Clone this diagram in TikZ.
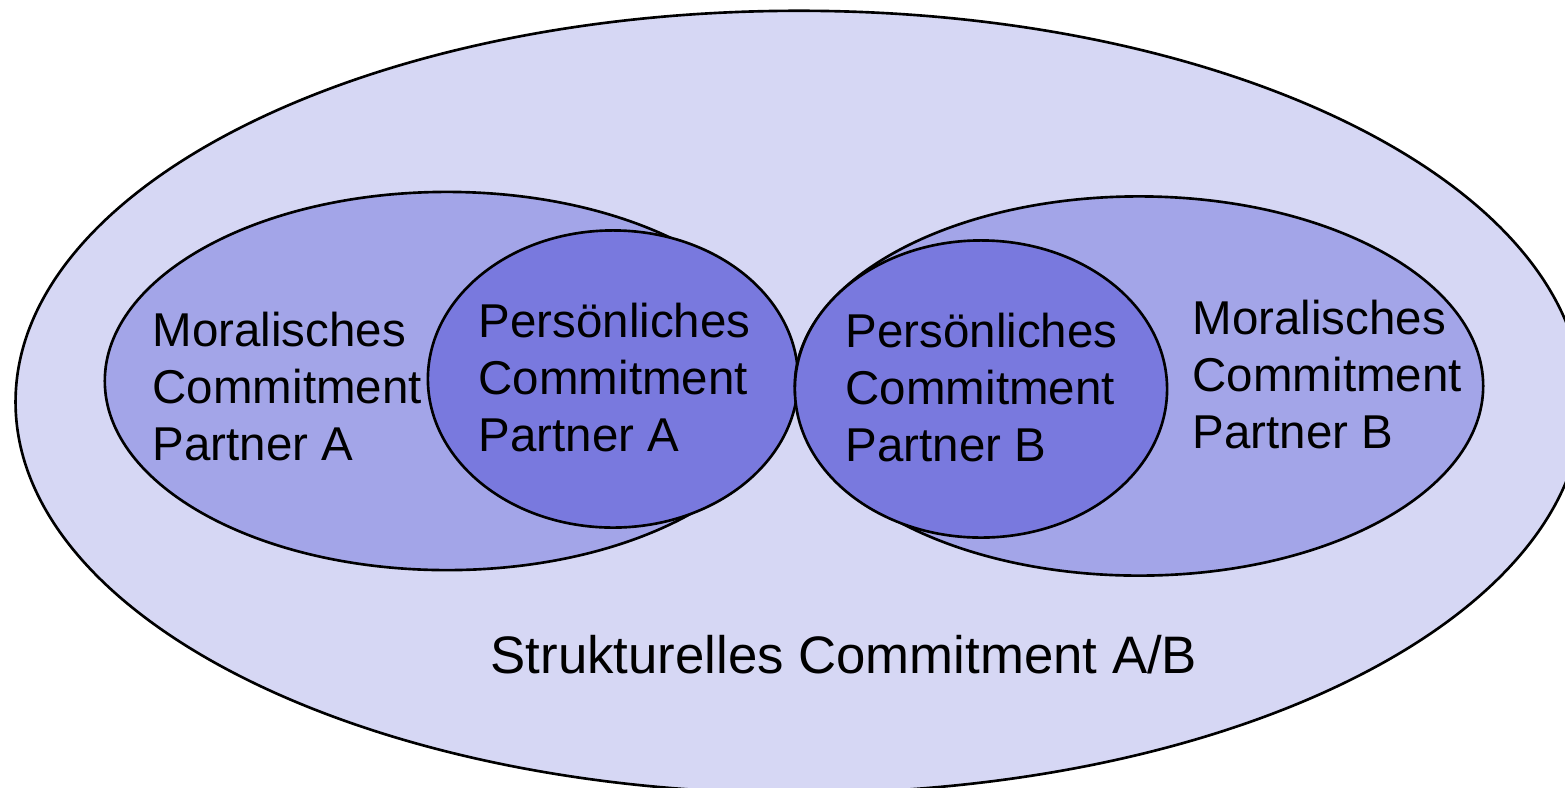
\documentclass[tikz,border=0pt]{standalone}
\usepackage{fontspec}
\setmainfont{Liberation Sans}
\usetikzlibrary{shapes.geometric}

\definecolor{strukfill}{RGB}{214,215,244}
\definecolor{moralfill}{RGB}{163,165,232}
\definecolor{persfill}{RGB}{121,121,222}

\tikzset{
  ring/.style={ellipse, draw=black, line width=0.75pt, inner sep=0pt},
  label/.style={align=left, inner sep=0pt, anchor=north west,
    font=\fontsize{13.5}{16.3}\selectfont}
}

\begin{document}
\begin{tikzpicture}[x=0.01cm, y=-0.01cm]
\useasboundingbox (0,0) rectangle (1565,787);
\node (struk) at (799,402) [ring, fill=strukfill, minimum width=15.66cm, minimum height=7.82cm] {};
\node (moralA) at (447,381) [ring, fill=moralfill, minimum width=6.84cm, minimum height=3.78cm] {};
\node (persA) at (613,379) [ring, fill=persfill, minimum width=3.70cm, minimum height=2.97cm] {};
\node (moralB) at (1139,386) [ring, fill=moralfill, minimum width=6.88cm, minimum height=3.79cm] {};
\node (persB) at (981,389) [ring, fill=persfill, minimum width=3.72cm, minimum height=2.97cm] {};
% labels
\node (txtMA) at (152,311) [label] {Moralisches\\Commitment\\Partner A};
\node (txtPA) at (478,302) [label] {Persönliches\\Commitment\\Partner A};
\node (txtPB) at (845,312) [label] {Persönliches\\Commitment\\Partner B};
\node (txtMB) at (1192,299) [label] {Moralisches\\Commitment\\Partner B};
\node (txtS) at (490,635) [label, font=\fontsize{15}{18}\selectfont] {Strukturelles Commitment A/B};
\end{tikzpicture}
\end{document}
